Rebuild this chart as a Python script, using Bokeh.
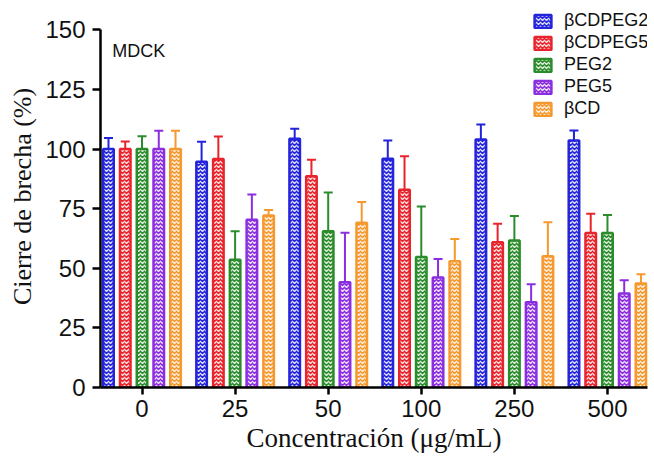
from bokeh.plotting import figure
from bokeh.models import (ColumnDataSource, Range1d, FixedTicker, Whisker, TeeHead,
                          Legend, LegendItem, Label)
from bokeh.embed import file_html
from bokeh.resources import INLINE

# Wound closure (%) of MDCK cells per formulation and concentration
concentrations = ["0", "25", "50", "100", "250", "500"]
series = ["βCDPEG2", "βCDPEG5", "PEG2", "PEG5", "βCD"]
colors = ["#2323dc", "#e8232b", "#2a8c2a", "#8b2ee0", "#f5992f"]

bcdpeg2 = [100.0, 94.7, 104.3, 95.9, 104.0, 103.6]
bcdpeg2_hi = [104.6, 103.1, 108.5, 103.6, 110.3, 107.8]
bcdpeg5 = [100.0, 95.8, 88.6, 82.9, 60.9, 64.8]
bcdpeg5_hi = [103.2, 105.3, 95.5, 97.0, 68.7, 72.9]
peg2 = [100.0, 53.6, 65.5, 54.7, 61.7, 64.8]
peg2_hi = [105.4, 65.5, 81.8, 75.9, 71.9, 72.3]
peg5 = [100.0, 70.4, 44.1, 46.1, 35.7, 39.4]
peg5_hi = [107.7, 80.9, 64.9, 53.9, 43.3, 45.0]
bcd = [100.0, 72.1, 69.1, 52.9, 55.0, 43.6]
bcd_hi = [107.7, 74.4, 77.8, 62.3, 69.3, 47.5]

means = [bcdpeg2, bcdpeg5, peg2, peg5, bcd]
uppers = [bcdpeg2_hi, bcdpeg5_hi, peg2_hi, peg5_hi, bcd_hi]
y_ticks = [0, 25, 50, 75, 100, 125, 150]

FONT = "Liberation Sans"
SERIF = "Liberation Serif"

# the frame reaches a little above 150 so the legend fits inside it;
# the y axis itself stops at 150
p = figure(width=654, height=457, output_backend="svg", toolbar_location=None,
           x_range=Range1d(-0.446, 5.43), y_range=Range1d(0, 160.2),
           min_border_left=100, min_border_right=7, min_border_top=5,
           min_border_bottom=70)

pitch = 0.18
bar_w = 0.113
idx = list(range(len(concentrations)))
items = []
for k, (name, col, m, hi) in enumerate(zip(series, colors, means, uppers)):
    off = (k - 2) * pitch
    src = ColumnDataSource(dict(x=[i + off for i in idx], top=m, hi=hi))
    w = Whisker(source=src, base="x", lower="top", upper="hi",
                line_color=col, line_width=2,
                upper_head=TeeHead(size=9, line_color=col, line_width=2),
                lower_head=None, level="underlay")
    p.add_layout(w)
    r = p.vbar(x="x", top="top", bottom=0, width=bar_w, source=src,
               fill_color=col, line_color=col, line_width=2.5,
               hatch_pattern="horizontal_wave", hatch_color="white",
               hatch_weight=1.3, hatch_scale=4, hatch_alpha=0.85)
    items.append(LegendItem(label=name, renderers=[r]))

legend = Legend(items=items, location=(432, 268), orientation="vertical",
                glyph_width=21, glyph_height=16, label_height=21, spacing=1,
                padding=0, margin=0, label_standoff=11,
                label_text_font=FONT, label_text_font_size="18px",
                label_text_color="#111111",
                border_line_color=None, background_fill_alpha=0)
p.add_layout(legend)

p.add_layout(Label(x=-0.32, y=141.3, text="MDCK", text_font=FONT,
                   text_font_size="18px", text_baseline="middle",
                   text_color="#111111"))

# axes
p.xaxis.ticker = FixedTicker(ticks=idx)
p.xaxis.major_label_overrides = {i: c for i, c in zip(idx, concentrations)}
p.yaxis.ticker = FixedTicker(ticks=y_ticks)
p.yaxis.bounds = (y_ticks[0], y_ticks[-1])
p.xaxis.axis_label = "Concentración (μg/mL)"
p.yaxis.axis_label = "Cierre de brecha (%)"
for ax in (p.xaxis, p.yaxis):
    ax.axis_line_width = 2.5
    ax.axis_line_color = "black"
    ax.major_tick_line_width = 2.5
    ax.major_tick_line_color = "black"
    ax.major_tick_in = 0
    ax.minor_tick_line_color = None
    ax.major_label_text_font = FONT
    ax.major_label_text_font_size = "24px"
    ax.major_label_text_color = "#111111"
    ax.axis_label_text_font = SERIF
    ax.axis_label_text_font_style = "normal"
    ax.axis_label_text_color = "#111111"
p.xaxis.axis_label_text_font_size = "27px"
p.yaxis.axis_label_text_font_size = "26px"
p.xaxis.major_tick_out = 7
p.yaxis.major_tick_out = 8
p.xaxis.major_label_standoff = 5
p.yaxis.major_label_standoff = 7
p.xaxis.axis_label_standoff = 3
p.yaxis.axis_label_standoff = 5

p.xgrid.grid_line_color = None
p.ygrid.grid_line_color = None
p.outline_line_color = None

open("out.html", "w").write(file_html(p, INLINE))
